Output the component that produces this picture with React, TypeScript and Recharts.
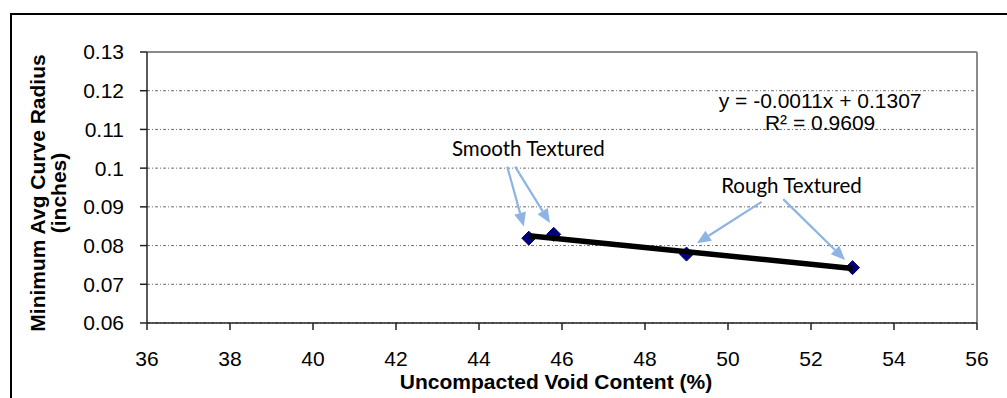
import React from "react";
import {
  ScatterChart,
  Scatter,
  XAxis,
  YAxis,
  CartesianGrid,
  ReferenceLine,
  ReferenceDot,
} from "recharts";

// Measured aggregates: void content vs. minimum average curve radius
const voidContent = [45.2, 45.8, 49.0, 53.0];
const curveRadius = [0.0819, 0.0829, 0.0778, 0.0743];

const xTicks = [36, 38, 40, 42, 44, 46, 48, 50, 52, 54, 56];
const yTicks = [0.06, 0.07, 0.08, 0.09, 0.1, 0.11, 0.12, 0.13];

const trendEquation = "y = -0.0011x + 0.1307";
const trendR2 = "R² = 0.9609";

// callout arrows as [fromX, fromY, toX, toY]
const smoothArrows = [
  [44.68, 0.1004, 45.08, 0.0849],
  [44.87, 0.1004, 45.71, 0.0858],
];
const roughArrows = [
  [50.81, 0.0913, 49.25, 0.0806],
  [51.33, 0.0920, 52.82, 0.0763],
];

const points = voidContent.map((x, i) => ({ x, y: curveRadius[i] }));

// least squares linear trend over the measured points
const n = voidContent.length;
const mx = voidContent.reduce((a, b) => a + b, 0) / n;
const my = curveRadius.reduce((a, b) => a + b, 0) / n;
let sxy = 0;
let sxx = 0;
voidContent.forEach((x, i) => {
  sxy += (x - mx) * (curveRadius[i] - my);
  sxx += (x - mx) * (x - mx);
});
const slope = sxy / sxx;
const intercept = my - slope * mx;
const xMin = Math.min(...voidContent);
const xMax = Math.max(...voidContent);
const trend = [
  { x: xMin, y: slope * xMin + intercept },
  { x: xMax, y: slope * xMax + intercept },
];

const ARIAL = "'Liberation Sans', Arial, sans-serif";
const CALLOUT = "Lato, 'Open Sans', sans-serif";
const ARROW = "#8DB4E2";

const Diamond = (props: any) => {
  const { cx, cy } = props;
  const r = 7;
  return (
    <polygon
      points={`${cx},${cy - r} ${cx + r},${cy} ${cx},${cy + r} ${cx - r},${cy}`}
      fill="#000080"
      stroke="#00005a"
      strokeWidth={1}
    />
  );
};

const Arrow = (props: any) => {
  const { x1, y1, x2, y2 } = props;
  const dx = x2 - x1;
  const dy = y2 - y1;
  const len = Math.hypot(dx, dy) || 1;
  const ux = dx / len;
  const uy = dy / len;
  const head = 14;
  const hw = 6;
  const bx = x2 - ux * head;
  const by = y2 - uy * head;
  return (
    <g>
      <line x1={x1} y1={y1} x2={bx} y2={by} stroke={ARROW} strokeWidth={2.2} />
      <polygon
        points={`${x2},${y2} ${bx - uy * hw},${by + ux * hw} ${bx + uy * hw},${by - ux * hw}`}
        fill={ARROW}
      />
    </g>
  );
};

const textShape = (text: string, family: string, size: number) => (p: any) => (
  <text
    x={p.cx}
    y={p.cy}
    textAnchor="middle"
    dominantBaseline="central"
    fontFamily={family}
    fontSize={size}
    fill="#000"
  >
    {text}
  </text>
);

const fmt = (v: number) => String(Number(v.toFixed(2)));

const XTitle = (p: any) => {
  const vb = p.viewBox;
  return (
    <text
      x={556}
      y={vb.y + 66}
      textAnchor="middle"
      fontFamily={ARIAL}
      fontWeight="bold"
      fontSize={21}
      fill="#000"
    >
      Uncompacted Void Content (%)
    </text>
  );
};

const YTitle = () => {
  const cy = 193;
  return (
    <g fontFamily={ARIAL} fontWeight="bold" fontSize={21} fill="#000">
      <text x={45} y={cy} textAnchor="middle" transform={`rotate(-90 45 ${cy})`}>
        Minimum Avg Curve Radius
      </text>
      <text x={66} y={cy} textAnchor="middle" transform={`rotate(-90 66 ${cy})`}>
        (inches)
      </text>
    </g>
  );
};

export default function App() {
  return (
    <div
      style={{
        position: "absolute",
        left: 0,
        top: 0,
        width: 1007,
        height: 398,
        overflow: "hidden",
        background: "#fff",
      }}
    >
      <div
        style={{
          position: "absolute",
          left: 10,
          top: 13,
          width: 1020,
          height: 420,
          border: "2.5px solid #000",
          boxSizing: "border-box",
        }}
      />
      <div style={{ position: "absolute", left: 0, top: 0 }}>
        <ScatterChart
          width={1007}
          height={398}
          margin={{ top: 52, right: 30, bottom: 0, left: 0 }}
        >
          <CartesianGrid
            vertical={false}
            stroke="#6f6f6f"
            strokeDasharray="3 2 1 2"
            strokeWidth={1}
          />
          <XAxis
            type="number"
            dataKey="x"
            domain={[36, 56]}
            ticks={xTicks}
            interval={0}
            height={75}
            tickSize={7}
            tickMargin={21}
            stroke="#222"
            strokeWidth={1.5}
            tick={{ fontSize: 21, fill: "#000", fontFamily: ARIAL }}
            label={<XTitle />}
          />
          <YAxis
            type="number"
            dataKey="y"
            domain={[0.06, 0.13]}
            ticks={yTicks}
            interval={0}
            width={147}
            tickSize={7}
            tickMargin={16}
            stroke="#222"
            strokeWidth={1.5}
            tickFormatter={fmt}
            tick={{ fontSize: 21, fill: "#000", fontFamily: ARIAL }}
            label={<YTitle />}
          />
          <ReferenceLine y={0.13} stroke="#8a8a8a" strokeWidth={2} />
          <ReferenceLine x={56} stroke="#8a8a8a" strokeWidth={2} />

          {[...smoothArrows, ...roughArrows].map((a, i) => (
            <ReferenceLine
              key={`arrow-${i}`}
              segment={[
                { x: a[0], y: a[1] },
                { x: a[2], y: a[3] },
              ]}
              shape={Arrow}
            />
          ))}

          <Scatter
            data={points}
            shape={Diamond}
            isAnimationActive={false}
          />
          <Scatter
            data={trend}
            line={{ stroke: "#000", strokeWidth: 5.5 }}
            shape={() => <g />}
            isAnimationActive={false}
          />

          <ReferenceDot x={45.19} y={0.1052} r={0} shape={textShape("Smooth Textured", CALLOUT, 20.5)} />
          <ReferenceDot x={51.53} y={0.0956} r={0} shape={textShape("Rough Textured", CALLOUT, 20.5)} />
          <ReferenceDot x={52.22} y={0.1176} r={0} shape={textShape(trendEquation, ARIAL, 21)} />
          <ReferenceDot x={52.22} y={0.1117} r={0} shape={textShape(trendR2, ARIAL, 21)} />
        </ScatterChart>
      </div>
    </div>
  );
}
